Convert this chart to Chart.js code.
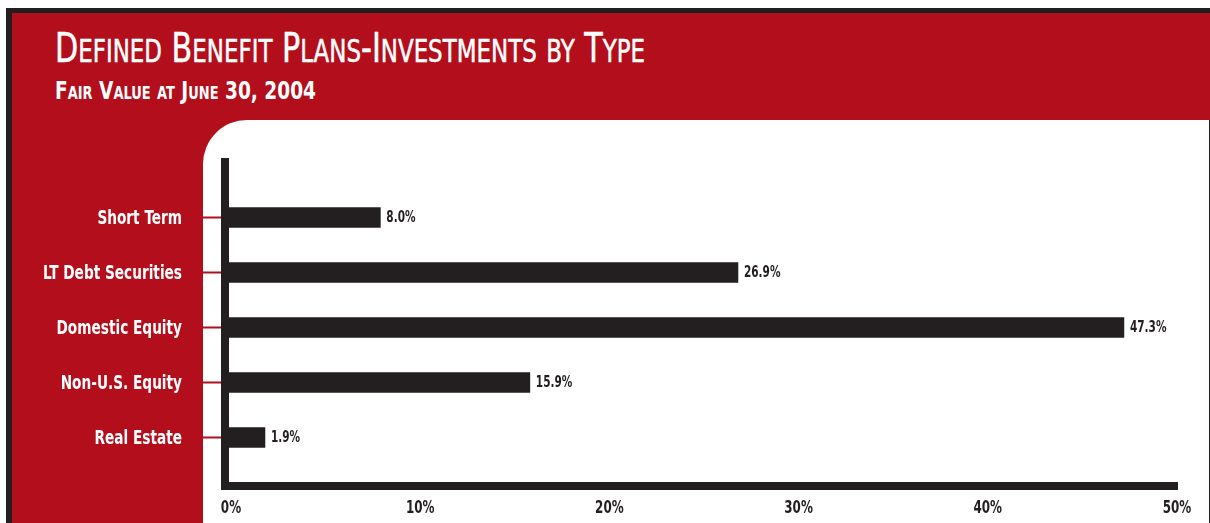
<!DOCTYPE html>
<html>
<head>
<meta charset="utf-8">
<script src="https://cdn.jsdelivr.net/npm/chart.js@4.4.1/dist/chart.umd.min.js"></script>
<style>
  body {
    margin: 0;
    width: 1210px;
    height: 523px;
    overflow: hidden;
    background: #fff;
    position: relative;
    font-family: 'Liberation Sans Narrow', 'DejaVu Sans Condensed', sans-serif;
  }
  .frame { position: absolute; left: 6px; top: 8px; width: 1204px; height: 515px; background: #231f20; }
  .band { position: absolute; left: 12px; top: 13px; width: 1198px; height: 510px; background: #b20e1c; }
  .panel {
    position: absolute; left: 203px; top: 120px; width: 1006px; height: 403px;
    background: #fff; border-top-left-radius: 44px; border-right: 1px solid #231f20;
  }
  .title, .subtitle {
    position: absolute; left: 55px; color: #fff; white-space: nowrap;
    line-height: 1; transform-origin: 0 0;
  }
  .title { top: 28px; font-size: 41px; font-weight: normal; -webkit-text-stroke: 0.5px #fff; }
  .subtitle { top: 78px; font-size: 25px; font-weight: bold; }
  .sc { text-transform: uppercase; }
  #chart { position: absolute; left: 0; top: 0; }
</style>
</head>
<body>
<div class="frame"></div>
<div class="band"></div>
<div class="panel"></div>
<div class="title" data-w="590" data-sc="0.76">Defined Benefit Plans-Investments by Type</div>
<div class="subtitle" data-w="261" data-sc="0.7">Fair Value at June 30, 2004</div>
<canvas id="chart" width="1210" height="523"></canvas>

<script>
const categories = ['Short Term', 'LT Debt Securities', 'Domestic Equity', 'Non-U.S. Equity', 'Real Estate'];
const shares = [8.0, 26.9, 47.3, 15.9, 1.9];
const axisTicks = [0, 10, 20, 30, 40, 50];

const INK = '#231f20';
const RED = '#b20e1c';
const FONT = "'Liberation Sans Narrow', 'DejaVu Sans Condensed', sans-serif";

// small caps by hand: lower-case runs become smaller capitals,
// then each heading is squeezed to its set width
document.querySelectorAll('[data-w]').forEach(el => {
  const parts = el.textContent.match(/[a-z]+|[^a-z]+/g);
  el.textContent = '';
  parts.forEach(p => {
    const s = document.createElement('span');
    s.textContent = p;
    if (/[a-z]/.test(p)) {
      s.className = 'sc';
      s.style.fontSize = el.dataset.sc + 'em';
    }
    el.appendChild(s);
  });
  const w = el.getBoundingClientRect().width;
  el.style.transform = 'scaleX(' + (el.dataset.w / w) + ')';
});

// text drawn narrower than the font's own width
function narrowText(ctx, text, x, y, sx, align) {
  ctx.save();
  ctx.translate(x, y);
  ctx.scale(sx, 1);
  ctx.textAlign = align;
  ctx.fillText(text, 0, 0);
  ctx.restore();
}

// thick axis bars, red leader ticks, axis labels and value labels
const axisDecor = {
  id: 'axisDecor',
  beforeDatasetsDraw(chart) {
    const { ctx, chartArea: a, scales: { x, y } } = chart;
    ctx.save();
    ctx.fillStyle = INK;
    ctx.fillRect(a.left - 8, a.top - 32, 8, a.bottom - a.top + 57);
    ctx.fillRect(a.left - 8, a.bottom + 17, a.right - a.left + 11, 8);

    ctx.strokeStyle = RED;
    ctx.lineWidth = 2;
    ctx.textBaseline = 'middle';
    ctx.font = 'bold 20px ' + FONT;
    categories.forEach((name, i) => {
      const py = y.getPixelForTick(i);
      ctx.beginPath();
      ctx.moveTo(203, py);
      ctx.lineTo(a.left - 8, py);
      ctx.stroke();
      ctx.fillStyle = '#fff';
      narrowText(ctx, name, 182, py + 1, 0.76, 'right');
    });

    ctx.fillStyle = INK;
    ctx.font = 'bold 17px ' + FONT;
    axisTicks.forEach(v => {
      narrowText(ctx, v + '%', x.getPixelForValue(v) + 2, a.bottom + 44, 0.78, 'center');
    });
    ctx.restore();
  },
  afterDatasetsDraw(chart) {
    const { ctx } = chart;
    const meta = chart.getDatasetMeta(0);
    ctx.save();
    ctx.fillStyle = INK;
    ctx.font = 'bold 15px ' + FONT;
    ctx.textBaseline = 'middle';
    meta.data.forEach((bar, i) => {
      narrowText(ctx, shares[i].toFixed(1) + '%', bar.x + 6, bar.y + 1, 0.78, 'left');
    });
    ctx.restore();
  }
};

new Chart(document.getElementById('chart'), {
  type: 'bar',
  data: {
    labels: categories,
    datasets: [{
      data: shares,
      backgroundColor: INK,
      barThickness: 20
    }]
  },
  options: {
    indexAxis: 'y',
    responsive: false,
    animation: false,
    layout: { padding: { top: 190, right: 35, left: 0, bottom: 0 } },
    plugins: {
      legend: { display: false },
      tooltip: { enabled: false }
    },
    scales: {
      x: {
        min: 0,
        max: 50,
        afterFit: s => { s.height = 58; },
        afterBuildTicks: s => { s.ticks = axisTicks.map(v => ({ value: v })); },
        grid: { display: false, drawTicks: false },
        border: { display: false },
        ticks: { display: false }
      },
      y: {
        afterFit: s => { s.width = 229; },
        grid: { display: false, drawTicks: false },
        border: { display: false },
        ticks: { display: false }
      }
    }
  },
  plugins: [axisDecor]
});
</script>
</body>
</html>
